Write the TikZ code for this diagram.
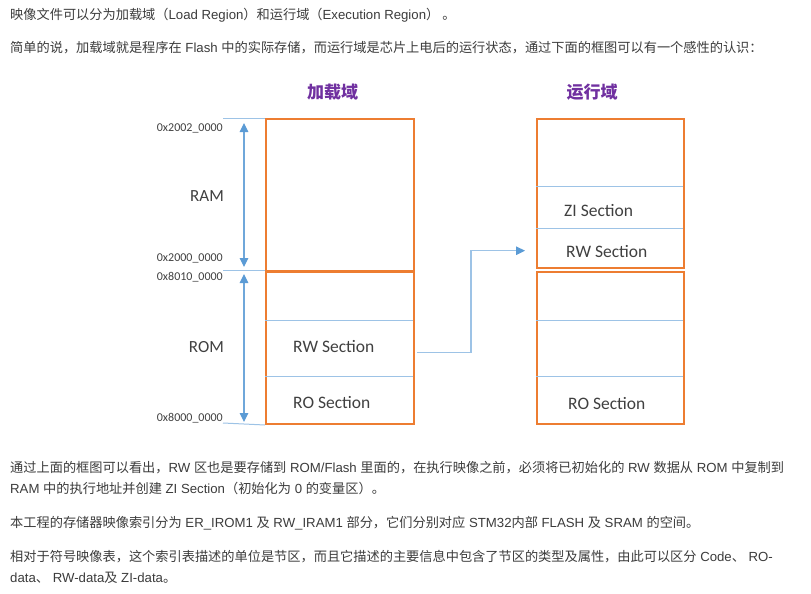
\documentclass[tikz,border=0pt]{standalone}
\usepackage{fontspec}
\setmainfont{Liberation Sans}
\newfontfamily\cjkfont{Noto Sans CJK SC}
\newfontfamily\calfont{Carlito}
\usetikzlibrary{arrows.meta}
\newcommand{\zh}[1]{{\cjkfont #1}}
\definecolor{boxorange}{HTML}{ED7D31}
\definecolor{lineblue}{HTML}{9DC3E6}
\definecolor{arrowblue}{HTML}{5B9BD5}
\definecolor{titlepurple}{HTML}{7030A0}
\definecolor{bodygray}{HTML}{3C3C3C}
\definecolor{labelgray}{HTML}{404040}
\begin{document}
\begin{tikzpicture}[x=1pt,y=-1pt,
  bodytext/.style={anchor=base west,inner sep=0pt,text=bodygray,font=\fontsize{13.2}{16}\selectfont},
  memtitle/.style={inner sep=0pt,text=titlepurple,font=\cjkfont\bfseries\fontsize{17}{20}\selectfont},
  membox/.style={draw=boxorange,line width=2pt,minimum width=148pt,anchor=north west,inner sep=0pt},
  divider/.style={draw=lineblue,line width=1pt},
  leader/.style={draw=lineblue,line width=1pt},
  span/.style={draw=arrowblue!70!lineblue,line width=1.2pt,{Triangle[length=9pt,width=8.5pt,color=arrowblue]}-{Triangle[length=9pt,width=8.5pt,color=arrowblue]}},
  conn/.style={draw=lineblue,line width=1.2pt,-{Triangle[length=9pt,width=8.5pt,color=arrowblue]}},
  addr/.style={anchor=base east,inner sep=0pt,text=labelgray,font=\calfont\fontsize{12}{14}\selectfont},
  regname/.style={anchor=base east,inner sep=0pt,text=labelgray,font=\calfont\fontsize{17}{20}\selectfont},
  sect/.style={anchor=base west,inner sep=0pt,text=labelgray,font=\calfont\fontsize{17.5}{20}\selectfont}]
\useasboundingbox (0,0) rectangle (811,594);
\fill[white] (0,0) rectangle (811,594);

% body text
\node[bodytext] (t1) at (10,20) {\zh{映像文件可以分为加载域（}Load Region\zh{）和运行域（}Execution Region\zh{） 。}};
\node[bodytext] (t2) at (10,52.5) {\zh{简单的说，加载域就是程序在} Flash \zh{中的实际存储，而运行域是芯片上电后的运行状态，通过下面的框图可以有一个感性的认识：}};
\node[bodytext] (t3) at (10,472.5) {\zh{通过上面的框图可以看出，}RW \zh{区也是要存储到} ROM/Flash \zh{里面的，在执行映像之前，必须将已初始化的} RW \zh{数据从} ROM \zh{中复制到}};
\node[bodytext] (t4) at (10,493.5) {RAM \zh{中的执行地址并创建} ZI Section\zh{（初始化为} 0 \zh{的变量区）。}};
\node[bodytext] (t5) at (10,527.5) {\zh{本工程的存储器映像索引分为} ER\_IROM1 \zh{及} RW\_IRAM1 \zh{部分，它们分别对应} STM32\zh{内部} FLASH \zh{及} SRAM \zh{的空间。}};
\node[bodytext] (t6) at (10,561) {\zh{相对于符号映像表，这个索引表描述的单位是节区，而且它描述的主要信息中包含了节区的类型及属性，由此可以区分} Code\zh{、} RO-};
\node[bodytext] (t7) at (10,582) {data\zh{、} RW-data\zh{及} ZI-data\zh{。}};

% titles
\node[memtitle] (load) at (332.5,92.5) {加载域};
\node[memtitle] (exec) at (592,92.5) {运行域};

% load region boxes
\node[membox,minimum height=151.5pt] (ram) at (265,118) {};
\node[membox,minimum height=152.5pt] (rom) at (265,270.5) {};
\draw[divider] (265,320.7) -- (413,320.7);
\draw[divider] (265,376) -- (413,376);
\node[sect] (lrw) at (293,352.7) {RW Section};
\node[sect] (lro) at (293,408.3) {RO Section};

% execution region boxes
\node[membox,minimum width=147pt,minimum height=149pt] (rtop) at (536,118) {};
\node[membox,minimum width=147pt,minimum height=152.5pt] (rbot) at (536,270.5) {};
\draw[divider] (536,186.7) -- (683,186.7);
\draw[divider] (536,228.7) -- (683,228.7);
\draw[divider] (536,320.7) -- (683,320.7);
\draw[divider] (536,376) -- (683,376);
\node[sect] (rzi) at (564,216) {ZI Section};
\node[sect] (rrw) at (566,257.3) {RW Section};
\node[sect] (rro) at (568,409) {RO Section};

% address leaders
\coordinate (l1) at (223,118);
\coordinate (l2) at (223,270);
\coordinate (l3) at (223,423);
\draw[leader] (l1) -- (ram.north west);
\draw[leader] (l2) -- (265,270);
\draw[leader] (l3) -- (rom.south west);
\node[addr] (a1) at (223,131.7) {0x2002\_0000};
\node[addr] (a2) at (223,261.7) {0x2000\_0000};
\node[addr] (a3) at (223,280.7) {0x8010\_0000};
\node[addr] (a4) at (223,421.7) {0x8000\_0000};
\node[regname] (nram) at (224,201.7) {RAM};
\node[regname] (nrom) at (224,352.7) {ROM};

% span arrows
\coordinate (s1) at (244,123);
\coordinate (s2) at (244,267);
\coordinate (s3) at (244,274);
\coordinate (s4) at (244,422);
\draw[span] (s1) -- (s2);
\draw[span] (s3) -- (s4);

% copy connector
\coordinate (c1) at (417,352.3);
\coordinate (cm) at (471,300);
\coordinate (c2) at (525,250.7);
\draw[conn] (c1) -| (cm) |- (c2);
\end{tikzpicture}
\end{document}
